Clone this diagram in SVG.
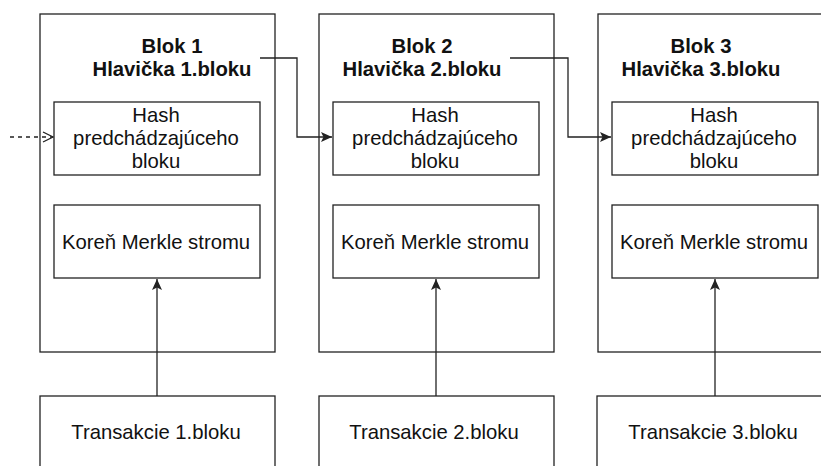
<svg xmlns="http://www.w3.org/2000/svg" width="821" height="466" viewBox="0 0 821 466">
  <style>
    .box { fill: #ffffff; stroke: #222222; stroke-width: 1.3; }
    .inner { fill: none; stroke: #222222; stroke-width: 1.3; }
    .title { font-family: "Liberation Sans", Arial, sans-serif; font-size: 20.3px; font-weight: bold; fill: #111111; text-anchor: middle; }
    .label { font-family: "Liberation Sans", Arial, sans-serif; font-size: 20.3px; fill: #111111; text-anchor: middle; }
    .link { fill: none; stroke: #222222; stroke-width: 1.3; }
    .dash { stroke-dasharray: 4 4; }
  </style>
  <defs>
    <marker id="arrowFilled" viewBox="0 0 11 10" refX="11" refY="5" markerWidth="11" markerHeight="10" markerUnits="userSpaceOnUse" orient="auto">
      <path d="M0,0 L11,5 L0,10 L2.5,5 Z" fill="#222222"/>
    </marker>
    <marker id="arrowOpen" viewBox="0 0 12 12" refX="11" refY="6" markerWidth="12" markerHeight="12" markerUnits="userSpaceOnUse" orient="auto">
      <path d="M1,1 L11,6 L1,11" fill="none" stroke="#222222" stroke-width="1.3"/>
    </marker>
  </defs>

  <!-- Block 1 -->
  <g id="block1">
    <rect class="box" x="40" y="14" width="235" height="338"/>
    <text class="title" x="172" y="53">Blok 1</text>
    <text class="title" x="172" y="76">Hlavička 1.bloku</text>
    <rect class="inner" x="54" y="102" width="206" height="73"/>
    <text class="label" x="156" y="122">Hash</text>
    <text class="label" x="156" y="145">predchádzajúceho</text>
    <text class="label" x="156" y="168">bloku</text>
    <rect class="inner" x="54" y="205" width="206" height="73"/>
    <text class="label" x="156" y="249">Koreň Merkle stromu</text>
  </g>
  <g id="tx1">
    <rect class="box" x="40" y="396" width="235" height="90"/>
    <text class="label" x="156" y="439">Transakcie 1.bloku</text>
  </g>

  <!-- Block 2 -->
  <g id="block2">
    <rect class="box" x="319" y="14" width="235" height="338"/>
    <text class="title" x="422" y="53">Blok 2</text>
    <text class="title" x="422" y="76">Hlavička 2.bloku</text>
    <rect class="inner" x="333" y="102" width="206" height="73"/>
    <text class="label" x="435" y="122">Hash</text>
    <text class="label" x="435" y="145">predchádzajúceho</text>
    <text class="label" x="435" y="168">bloku</text>
    <rect class="inner" x="333" y="205" width="206" height="73"/>
    <text class="label" x="435" y="249">Koreň Merkle stromu</text>
  </g>
  <g id="tx2">
    <rect class="box" x="319" y="396" width="235" height="90"/>
    <text class="label" x="434" y="439">Transakcie 2.bloku</text>
  </g>

  <!-- Block 3 -->
  <g id="block3">
    <rect class="box" x="598" y="14" width="235" height="338"/>
    <text class="title" x="701" y="53">Blok 3</text>
    <text class="title" x="701" y="76">Hlavička 3.bloku</text>
    <rect class="inner" x="612" y="102" width="206" height="73"/>
    <text class="label" x="714" y="122">Hash</text>
    <text class="label" x="714" y="145">predchádzajúceho</text>
    <text class="label" x="714" y="168">bloku</text>
    <rect class="inner" x="612" y="205" width="206" height="73"/>
    <text class="label" x="714" y="249">Koreň Merkle stromu</text>
  </g>
  <g id="tx3">
    <rect class="box" x="597" y="396" width="235" height="90"/>
    <text class="label" x="713" y="439">Transakcie 3.bloku</text>
  </g>

  <!-- Connectors -->
  <g id="connectors">
    <path class="link dash" d="M10,137 L53,137" marker-end="url(#arrowOpen)"/>
    <path class="link" d="M260,58 L297,58 L297,137 L332,137" marker-end="url(#arrowFilled)"/>
    <path class="link" d="M510,58 L568,58 L568,137 L611,137" marker-end="url(#arrowFilled)"/>
    <path class="link" d="M157,396 L157,279" marker-end="url(#arrowFilled)"/>
    <path class="link" d="M436,396 L436,279" marker-end="url(#arrowFilled)"/>
    <path class="link" d="M715,396 L715,279" marker-end="url(#arrowFilled)"/>
  </g>
</svg>
